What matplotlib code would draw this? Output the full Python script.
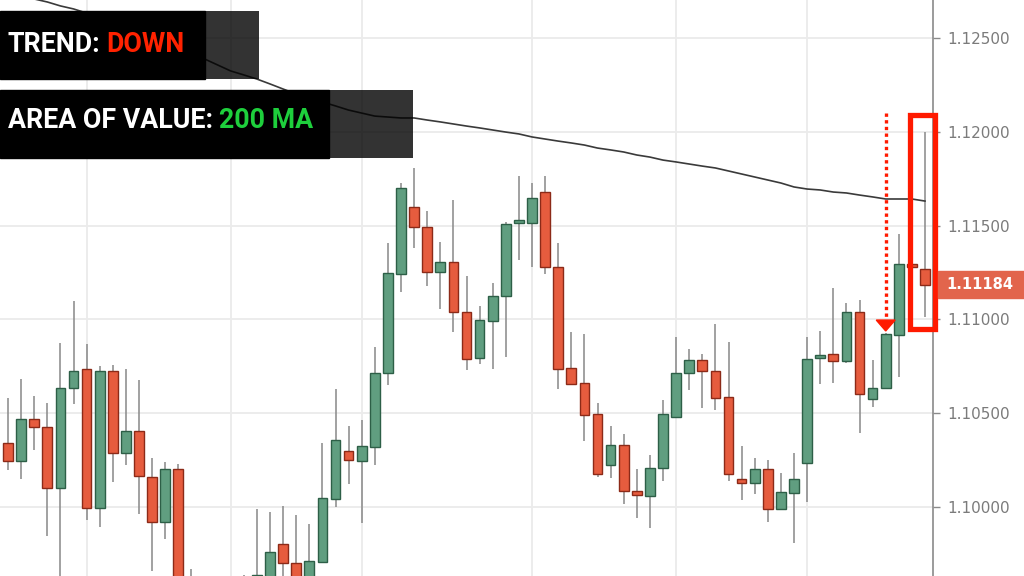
import numpy as np
import matplotlib
matplotlib.use("Agg")
import matplotlib.pyplot as plt
import matplotlib.transforms as mtransforms
from matplotlib.patches import Rectangle, Polygon

# candles (one per session, oldest first)
opens = [1.10343, 1.10247, 1.10471, 1.10428, 1.10104, 1.10636, 1.10737, 1.09997, 1.10726, 1.10290,
         1.10407, 1.10162, 1.09923, 1.10205, 1.09551, 1.09481, 1.09402, 1.09455, 1.09519, 1.09588,
         1.09614, 1.09806, 1.09705, 1.09614, 1.09710, 1.10045, 1.10301, 1.10247, 1.10322, 1.10715,
         1.11242, 1.11598, 1.11492, 1.11253, 1.11306, 1.11040, 1.10795, 1.10992, 1.11125, 1.11511,
         1.11513, 1.11678, 1.11279, 1.10742, 1.10662, 1.10497, 1.10226, 1.10332, 1.10088, 1.10061,
         1.10210, 1.10481, 1.10715, 1.10785, 1.10726, 1.10588, 1.10152, 1.10130, 1.10205, 1.09992,
         1.10077, 1.10237, 1.10795, 1.10816, 1.10779, 1.11040, 1.10577, 1.10636, 1.10918, 1.11295,
         1.11269]
highs = [1.10582, 1.10684, 1.10593, 1.10556, 1.10875, 1.11098, 1.10870, 1.10753, 1.10758, 1.10737,
         1.10678, 1.10263, 1.10242, 1.10231, 1.09673, 1.09588, 1.09508, 1.09561, 1.09641, 1.09992,
         1.09976, 1.10008, 1.09960, 1.09912, 1.10343, 1.10630, 1.10434, 1.10465, 1.10854, 1.11407,
         1.11726, 1.11806, 1.11577, 1.11412, 1.11636, 1.11231, 1.11072, 1.11194, 1.11519, 1.11763,
         1.11726, 1.11763, 1.11407, 1.10934, 1.10923, 1.10556, 1.10434, 1.10391, 1.10205, 1.10279,
         1.10572, 1.10907, 1.10843, 1.10816, 1.10976, 1.10880, 1.10327, 1.10263, 1.10253, 1.10184,
         1.10290, 1.10907, 1.10939, 1.11168, 1.11088, 1.11104, 1.10785, 1.10928, 1.11455, 1.11301,
         1.11997]
lows = [1.10199, 1.10152, 1.10306, 1.09848, 1.09588, 1.10551, 1.09934, 1.09896, 1.10136, 1.10226,
        1.09965, 1.09662, 1.09832, 1.09508, 1.09428, 1.09348, 1.09295, 1.09375, 1.09455, 1.09535,
        1.09508, 1.09588, 1.09508, 1.09535, 1.09705, 1.10003, 1.10125, 1.09918, 1.10226, 1.10652,
        1.11146, 1.11380, 1.11178, 1.11056, 1.10934, 1.10731, 1.10763, 1.10737, 1.10801, 1.11316,
        1.11279, 1.11242, 1.10630, 1.10652, 1.10354, 1.10162, 1.10157, 1.10019, 1.09944, 1.09891,
        1.10141, 1.10476, 1.10625, 1.10529, 1.10519, 1.10141, 1.10040, 1.10072, 1.09923, 1.09990,
        1.09811, 1.10029, 1.10657, 1.10662, 1.10769, 1.10396, 1.10535, 1.10630, 1.10694, 1.11274,
        1.11013]
closes = [1.10247, 1.10471, 1.10428, 1.10104, 1.10636, 1.10726, 1.09997, 1.10726, 1.10290, 1.10407,
          1.10168, 1.09923, 1.10205, 1.09561, 1.09481, 1.09402, 1.09455, 1.09519, 1.09588, 1.09641,
          1.09763, 1.09705, 1.09614, 1.09715, 1.10051, 1.10359, 1.10253, 1.10327, 1.10715, 1.11247,
          1.11699, 1.11492, 1.11253, 1.11306, 1.11040, 1.10790, 1.10997, 1.11125, 1.11508, 1.11516,
          1.11646, 1.11279, 1.10737, 1.10657, 1.10492, 1.10178, 1.10332, 1.10088, 1.10066, 1.10210,
          1.10497, 1.10715, 1.10785, 1.10726, 1.10582, 1.10178, 1.10130, 1.10205, 1.09992, 1.10082,
          1.10152, 1.10790, 1.10811, 1.10779, 1.11040, 1.10604, 1.10636, 1.10923, 1.11295, 1.11279,
          1.11184]
ma200 = [1.12763, 1.12731, 1.12705, 1.12689, 1.12668, 1.12652, 1.12630, 1.12604, 1.12572, 1.12545,
         1.12519, 1.12492, 1.12465, 1.12439, 1.12412, 1.12386, 1.12354, 1.12322, 1.12301, 1.12279,
         1.12253, 1.12226, 1.12199, 1.12178, 1.12157, 1.12136, 1.12114, 1.12098, 1.12082, 1.12077,
         1.12072, 1.12072, 1.12061, 1.12051, 1.12040, 1.12029, 1.12019, 1.12008, 1.11997, 1.11987,
         1.11971, 1.11960, 1.11949, 1.11939, 1.11928, 1.11912, 1.11902, 1.11891, 1.11875, 1.11864,
         1.11848, 1.11838, 1.11827, 1.11816, 1.11806, 1.11790, 1.11774, 1.11758, 1.11742, 1.11726,
         1.11705, 1.11694, 1.11689, 1.11678, 1.11673, 1.11662, 1.11652, 1.11641, 1.11641, 1.11641,
         1.11630]

price_ticks = [1.100, 1.105, 1.110, 1.115, 1.120, 1.125]
time_grid = [6, 17, 27, 40, 51, 61]   # candles where the vertical grid sits
last_price = 1.11184
signal_bar = 67      # bar marked by the dotted arrow
boxed_bar = 70       # bar inside the red box

GREEN, GREEN_EDGE = "#609e80", "#2d5f47"
RED, RED_EDGE = "#e65c3e", "#8c2a18"
HILITE = "#ff1a00"

W, H = 1024, 576
fig = plt.figure(figsize=(W / 100, H / 100), dpi=100)
ax = fig.add_axes([0, 0, 933 / W, 1])

o = np.array(opens)
h = np.array(highs)
l = np.array(lows)
c = np.array(closes)
x = np.arange(len(o))
up = c >= o

# wicks
ax.vlines(x, l, h, color="#888888", lw=1.1, zorder=2)
# bodies
body_lo = np.minimum(o, c)
body_h = np.maximum(np.abs(c - o), 0.00018)
ax.bar(x, body_h, bottom=body_lo, width=0.74,
       color=np.where(up, GREEN, RED), edgecolor=np.where(up, GREEN_EDGE, RED_EDGE),
       linewidth=1.0, zorder=3)

# 200 MA
ax.plot(x, ma200, color="#3a3a3a", lw=1.2, zorder=4)

ax.set_xticks(time_grid)
ax.set_yticks(price_ticks)
ax.set_yticklabels([f"{p:.5f}" for p in price_ticks])
# limits after the ticks, set_ticks would widen them otherwise
ax.set_xlim(-8 / 13.1, 925 / 13.1)
ax.set_ylim(1.096356, 1.126995)

ax.grid(True, color="#ebebeb", lw=1.3, zorder=0)
ax.set_axisbelow(True)
for s in ["top", "left", "bottom"]:
    ax.spines[s].set_visible(False)
ax.spines["right"].set_color("#8a8a8a")
ax.spines["right"].set_linewidth(1.2)
ax.tick_params(axis="x", length=0, labelbottom=False)
ax.tick_params(axis="y", left=False, labelleft=False, right=True, labelright=True,
               length=5, width=1, color="#8a8a8a", labelcolor="#7b7b7b",
               labelsize=11, pad=5)

# dotted arrow over the signal bar
ax.plot([signal_bar, signal_bar], [1.12098, 1.10997], color=HILITE, lw=2.4,
        ls=(0, (1, 1)), zorder=6, clip_on=False)
ax.add_patch(Polygon([(signal_bar - 0.72, 1.10997), (signal_bar + 0.72, 1.10997),
                      (signal_bar, 1.10939)], closed=True, color=HILITE, zorder=6))

# red box around last bar
ax.add_patch(Rectangle((boxed_bar - 1.11, 1.10947), 1.84, 0.01143, fill=False,
                       edgecolor=HILITE, lw=3.8, zorder=7, clip_on=False))

# last price label on the axis
lbl = mtransforms.blended_transform_factory(fig.transFigure, ax.transData)
fig.add_artist(Rectangle((938 / W, last_price - 0.00072), 86 / W, 0.00144,
                         transform=lbl, color="#e2654c", zorder=5))
fig.text(946 / W, last_price, f"{last_price:.5f}", transform=lbl, color="white",
         fontsize=10.5, fontweight="bold", va="center", ha="left", zorder=6)

# caption boxes (pixel coords, origin top-left)
px = mtransforms.Affine2D().scale(1 / W, -1 / H).translate(0, 1) + fig.transFigure
for top, black_w, total_w in [(11, 205, 259), (90, 329, 413)]:
    fig.add_artist(Rectangle((0, top), black_w, 68, transform=px, color="black", zorder=8))
    fig.add_artist(Rectangle((black_w, top), total_w - black_w, 68, transform=px,
                             color="black", alpha=0.8, lw=0, zorder=8))

cap_font = dict(family=["DejaVu Sans Condensed", "Roboto", "DejaVu Sans"],
                fontweight="bold", fontsize=19.3, zorder=9)
t1 = fig.text(8, 44, "TREND:", transform=px, color="white", va="center", **cap_font)
fig.add_artist(plt.Annotation("DOWN", xy=(1, 0), xycoords=t1, xytext=(4, 0),
                              textcoords="offset points", va="bottom", ha="left",
                              color="#ff2200", **cap_font))
t2 = fig.text(8, 121, "AREA OF VALUE:", transform=px, color="white", va="center", **cap_font)
fig.add_artist(plt.Annotation("200 MA", xy=(1, 0), xycoords=t2, xytext=(4, 0),
                              textcoords="offset points", va="bottom", ha="left",
                              color="#1ecf3c", **cap_font))

fig.savefig("out.png", dpi=100)
